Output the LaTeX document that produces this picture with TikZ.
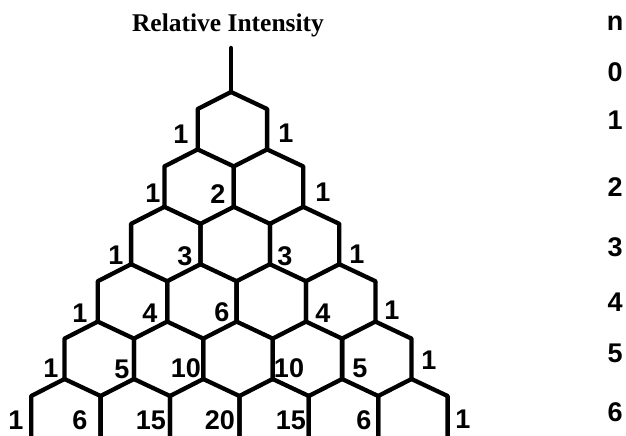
\documentclass[tikz,border=0pt]{standalone}
\usepackage{fontspec}
\setmainfont{Liberation Serif}
\newfontfamily\digitfont{Liberation Sans}
\begin{document}
\begin{tikzpicture}[x=1pt,y=-1pt,
  lattice/.style={line width=4.3pt, line cap=round, line join=round},
  num/.style={font=\digitfont\bfseries\fontsize{27}{27}\selectfont, inner sep=0pt},
  title/.style={font=\bfseries\fontsize{25.5}{26}\selectfont, inner sep=0pt, anchor=base}]
\useasboundingbox (0,0) rectangle (626,436);
% branch points of the lattice
\foreach \n in {0,...,6}
  \foreach \k in {0,...,\n}
    \coordinate (B-\n-\k) at ({231+1.4*\n+(2*\k-\n)*34.7},{92+57.4*\n});
\coordinate (top) at (231,48);
\draw[lattice] (top) -- (B-0-0);
\foreach \n in {0,...,5}{
  \pgfmathtruncatemacro\m{\n+1}
  \foreach \k in {0,...,\n}{
    \pgfmathtruncatemacro\kk{\k+1}
    \draw[lattice] (B-\n-\k) -- ([yshift=40.4pt]B-\m-\k) -- (B-\m-\k);
    \draw[lattice] (B-\n-\k) -- ([yshift=40.4pt]B-\m-\kk) -- (B-\m-\kk);
  }
}
% title
\node[title] (ttl) at (228,32) {Relative Intensity};
% intensities
\node[num] (r1a) at (181,134) {1};
\node[num] (r1b) at (286,133) {1};
\node[num] (r2a) at (153,193) {1};
\node[num] (r2b) at (218,194) {2};
\node[num] (r2c) at (323,192) {1};
\node[num] (r3a) at (116,255) {1};
\node[num] (r3b) at (185,256) {3};
\node[num] (r3c) at (285,256) {3};
\node[num] (r3d) at (357,254) {1};
\node[num] (r4a) at (80,313) {1};
\node[num] (r4b) at (150,313) {4};
\node[num] (r4c) at (222,312) {6};
\node[num] (r4d) at (323,313) {4};
\node[num] (r4e) at (392,310) {1};
\node[num] (r5a) at (51,368) {1};
\node[num] (r5b) at (122,369) {5};
\node[num] (r5c) at (186,368) {10};
\node[num] (r5d) at (289,368) {10};
\node[num] (r5e) at (360,368) {5};
\node[num] (r5f) at (429,360) {1};
\node[num] (r6a) at (16,420) {1};
\node[num] (r6b) at (80,420) {6};
\node[num] (r6c) at (151,420) {15};
\node[num] (r6d) at (220,420) {20};
\node[num] (r6e) at (291,420) {15};
\node[num] (r6f) at (364,420) {6};
\node[num] (r6g) at (463,419) {1};
% n column
\node[num] (nh) at (615,23) {n};
\node[num] (n0) at (615,72) {0};
\node[num] (n1) at (615,120) {1};
\node[num] (n2) at (615,187) {2};
\node[num] (n3) at (615,247) {3};
\node[num] (n4) at (615,302) {4};
\node[num] (n5) at (615,353) {5};
\node[num] (n6) at (615,412) {6};
\end{tikzpicture}
\end{document}
